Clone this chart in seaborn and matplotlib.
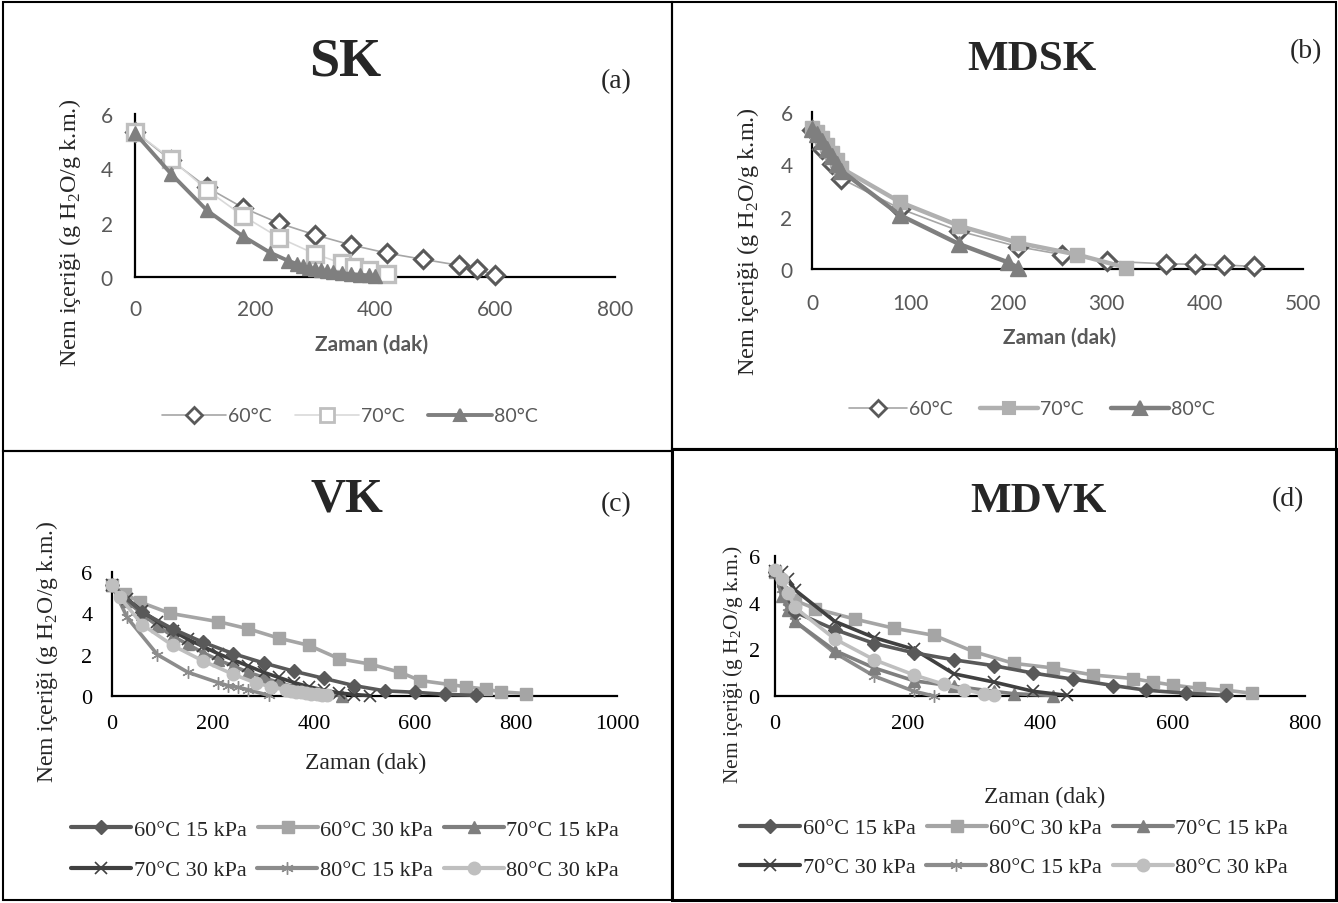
import matplotlib
matplotlib.use("Agg")
import matplotlib.pyplot as plt
from matplotlib.lines import Line2D
from matplotlib.patches import Rectangle
import seaborn as sns
import pandas as pd

sns.set_theme(style="white")
plt.rcParams['font.family'] = ['Liberation Serif', 'DejaVu Sans']
plt.rcParams['mathtext.fontset'] = 'custom'
plt.rcParams['mathtext.rm'] = 'Liberation Serif'

# ---------------- DATA ----------------
# (a) SK
a_t60 = [0, 60, 120, 180, 240, 300, 360, 420, 480, 540, 570, 600]
a_y60 = [5.35, 4.3, 3.3, 2.55, 1.98, 1.55, 1.18, 0.88, 0.65, 0.43, 0.28, 0.08]
a_t70 = [0, 60, 120, 180, 240, 300, 345, 365, 390, 420]
a_y70 = [5.35, 4.35, 3.2, 2.25, 1.45, 0.85, 0.5, 0.38, 0.25, 0.1]
a_t80 = [0, 60, 120, 180, 225, 255, 270, 280, 290, 300, 310, 320, 330, 345, 360, 375, 390, 400]
a_y80 = [5.3, 3.8, 2.45, 1.5, 0.9, 0.6, 0.48, 0.4, 0.34, 0.29, 0.25, 0.21, 0.18, 0.14, 0.11, 0.08, 0.06, 0.04]

# (b) MDSK
b_t60 = [0, 10, 20, 30, 90, 150, 210, 255, 300, 360, 390, 420, 450]
b_y60 = [5.3, 4.6, 4.0, 3.45, 2.3, 1.45, 0.85, 0.55, 0.3, 0.2, 0.18, 0.15, 0.1]
b_t70 = [0, 5, 10, 15, 20, 25, 30, 90, 150, 210, 270, 320]
b_y70 = [5.4, 5.25, 5.0, 4.75, 4.45, 4.15, 3.85, 2.55, 1.65, 1.0, 0.55, 0.05]
b_t80 = [0, 5, 10, 15, 20, 25, 30, 90, 150, 200, 210]
b_y80 = [5.35, 5.15, 4.9, 4.6, 4.3, 4.0, 3.75, 2.05, 0.95, 0.25, 0.05]

# (c) VK
c_t60_15 = [0, 60, 120, 180, 240, 300, 360, 420, 480, 540, 600, 660, 720]
c_y60_15 = [5.35, 4.05, 3.25, 2.6, 2.05, 1.6, 1.2, 0.85, 0.5, 0.25, 0.18, 0.08, 0.03]
c_t60_30 = [0, 25, 55, 115, 210, 270, 330, 390, 450, 510, 570, 610, 670, 700, 740, 770, 820]
c_y60_30 = [5.35, 4.95, 4.55, 4.0, 3.6, 3.25, 2.8, 2.45, 1.8, 1.55, 1.15, 0.75, 0.55, 0.45, 0.33, 0.2, 0.12]
c_t70_15 = [0, 30, 60, 90, 120, 150, 180, 210, 240, 270, 300, 330, 360, 390, 420, 455]
c_y70_15 = [5.35, 4.6, 3.95, 3.4, 2.9, 2.5, 2.1, 1.75, 1.45, 1.15, 0.9, 0.65, 0.45, 0.25, 0.12, 0.02]
c_t70_30 = [0, 30, 60, 90, 120, 150, 180, 210, 240, 270, 300, 330, 360, 390, 420, 450, 480, 510]
c_y70_30 = [5.35, 4.7, 4.1, 3.6, 3.15, 2.75, 2.4, 2.05, 1.75, 1.45, 1.15, 0.9, 0.65, 0.45, 0.28, 0.15, 0.07, 0.02]
c_t80_15 = [0, 30, 90, 150, 210, 230, 250, 270, 310]
c_y80_15 = [5.35, 3.8, 2.0, 1.15, 0.65, 0.5, 0.42, 0.3, 0.03]
c_t80_30 = [0, 15, 60, 120, 180, 240, 285, 315, 345, 355, 365, 375, 385, 395, 405, 415, 425]
c_y80_30 = [5.35, 4.8, 3.45, 2.45, 1.7, 1.05, 0.63, 0.45, 0.3, 0.25, 0.2, 0.17, 0.14, 0.11, 0.08, 0.05, 0.03]

# (d) MDVK
d_t60_15 = [0, 30, 90, 150, 210, 270, 330, 390, 450, 510, 560, 620, 680]
d_y60_15 = [5.3, 3.6, 2.85, 2.25, 1.85, 1.55, 1.3, 0.98, 0.72, 0.45, 0.25, 0.12, 0.03]
d_t60_30 = [0, 30, 60, 120, 180, 240, 300, 360, 420, 480, 540, 570, 600, 640, 680, 720]
d_y60_30 = [5.3, 4.1, 3.75, 3.3, 2.9, 2.6, 1.9, 1.4, 1.2, 0.9, 0.75, 0.6, 0.47, 0.33, 0.25, 0.12]
d_t70_15 = [0, 10, 20, 30, 90, 150, 210, 270, 330, 360, 420]
d_y70_15 = [5.35, 4.3, 3.7, 3.2, 1.95, 1.2, 0.65, 0.42, 0.2, 0.1, 0.02]
d_t70_30 = [0, 10, 20, 30, 90, 150, 210, 270, 330, 390, 440]
d_y70_30 = [5.35, 5.3, 5.0, 4.55, 3.2, 2.5, 2.0, 0.95, 0.6, 0.2, 0.03]
d_t80_15 = [0, 10, 20, 30, 90, 150, 210, 240]
d_y80_15 = [5.35, 4.6, 3.8, 3.2, 1.85, 0.85, 0.2, 0.0]
d_t80_30 = [0, 10, 20, 30, 90, 150, 210, 255, 285, 315, 330]
d_y80_30 = [5.4, 5.0, 4.4, 3.8, 2.45, 1.55, 0.9, 0.5, 0.27, 0.1, 0.05]

labels_ab = ["60°C", "70°C", "80°C"]
labels_cd = ["60°C 15 kPa", "60°C 30 kPa", "70°C 15 kPa",
             "70°C 30 kPa", "80°C 15 kPa", "80°C 30 kPa"]
yticks = [0, 2, 4, 6]
ylabel = "Nem içeriği (g H$_\\mathregular{2}$O/g k.m.)"
xlabel = "Zaman (dak)"

# ---------------- LAYOUT ----------------
W, H = 1338, 904
fig = plt.figure(figsize=(W / 100, H / 100), dpi=100)
fig.patch.set_facecolor("white")

def fx(px):
    return px / W

def fy(py):
    return 1 - py / H

def make_axes(x0, x1, y0, y1):
    ax = fig.add_axes([fx(x0), fy(y0), fx(x1) - fx(x0), (y0 - y1) / H])
    ax.set_facecolor("none")
    for s in ["top", "right"]:
        ax.spines[s].set_visible(False)
    for s in ["left", "bottom"]:
        ax.spines[s].set_color("black")
        ax.spines[s].set_linewidth(1.6)
        ax.spines[s].set_zorder(0.5)
    ax.grid(False)
    return ax

def draw(ax, t, y, color, marker, ms, lw, mfc=None, mec=None, mew=1.5, z=2):
    df = pd.DataFrame({"t": t, "y": y})
    sns.lineplot(data=df, x="t", y="y", ax=ax, sort=False, estimator=None,
                 color=color, linewidth=lw, marker=marker, markersize=ms,
                 markerfacecolor=mfc if mfc is not None else color,
                 markeredgecolor=mec if mec is not None else color,
                 markeredgewidth=mew, clip_on=False, legend=False, zorder=z)

def handle(color, marker, ms, lw, mfc=None, mec=None, mew=1.5):
    return Line2D([0], [0], color=color, lw=lw, marker=marker, markersize=ms,
                  markerfacecolor=mfc if mfc is not None else color,
                  markeredgecolor=mec if mec is not None else color,
                  markeredgewidth=mew)

sans = "Lato"
gray_txt = "#595959"

def style_ab(ax, xmax, xstep, xpad, ypad):
    ax.set_xlim(0, xmax)
    ax.set_ylim(0, 6)
    ax.set_xticks(list(range(0, xmax + 1, xstep)))
    ax.set_yticks(yticks)
    ax.tick_params(axis="both", length=0, labelsize=15, labelcolor=gray_txt)
    ax.tick_params(axis="x", pad=xpad)
    ax.tick_params(axis="y", pad=ypad)
    for lab in ax.get_xticklabels() + ax.get_yticklabels():
        lab.set_family(sans)
    ax.set_xlabel("")
    ax.set_ylabel("")

def style_cd(ax, xmax, xstep, xpad, ypad):
    ax.set_xlim(0, xmax)
    ax.set_ylim(0, 6)
    ax.set_xticks(list(range(0, xmax + 1, xstep)))
    ax.set_yticks(yticks)
    ax.tick_params(axis="both", length=0, labelsize=16, labelcolor="black")
    ax.tick_params(axis="x", pad=xpad)
    ax.tick_params(axis="y", pad=ypad)
    ax.set_xlabel("")
    ax.set_ylabel("")

# ---- panel (a) SK ----
axa = make_axes(135, 615, 278, 115)
draw(axa, a_t60, a_y60, "#a6a6a6", "D", 9, 1.2, mfc="white", mec="#595959", mew=2.2, z=3)
draw(axa, a_t70, a_y70, "#d9d9d9", "s", 12, 1.2, mfc="white", mec="#bfbfbf", mew=2.4, z=4)
draw(axa, a_t80, a_y80, "#7f7f7f", "^", 10, 2.8, mfc="#7f7f7f", mec="#7f7f7f", mew=1, z=5)
style_ab(axa, 800, 200, 16, 16)
hA = [handle("#a6a6a6", "D", 8, 1.2, mfc="white", mec="#595959", mew=2.0),
      handle("#d9d9d9", "s", 10, 1.2, mfc="white", mec="#bfbfbf", mew=2.0),
      handle("#7f7f7f", "^", 9, 2.8)]
fig.legend(hA, labels_ab, loc="center", bbox_to_anchor=(fx(350), fy(417)), ncol=3,
           frameon=False, handlelength=3.3, handletextpad=0.1, columnspacing=1.2,
           prop={"family": sans, "size": 14}, labelcolor=gray_txt)
fig.text(fx(372), fy(345), xlabel, ha="center", va="center", family=sans,
         fontweight="bold", fontsize=15, color=gray_txt)
fig.text(fx(70), fy(233), ylabel, rotation=90, ha="center", va="center", fontsize=17.5)
fig.text(fx(345), fy(62), "SK", ha="center", va="center", fontsize=39, fontweight="bold")
fig.text(fx(616), fy(82), "(a)", ha="center", va="center", fontsize=20)

# ---- panel (b) MDSK ----
axb = make_axes(812, 1303, 270, 113)
draw(axb, b_t60, b_y60, "#a6a6a6", "D", 9, 1.2, mfc="white", mec="#595959", mew=2.2, z=3)
draw(axb, b_t70, b_y70, "#b0b0b0", "s", 10, 3.2, mfc="#b0b0b0", mec="#b0b0b0", mew=1, z=4)
draw(axb, b_t80, b_y80, "#7f7f7f", "^", 11, 3.2, mfc="#7f7f7f", mec="#7f7f7f", mew=1, z=5)
style_ab(axb, 500, 100, 17, 14)
hB = [handle("#a6a6a6", "D", 8, 1.2, mfc="white", mec="#595959", mew=2.0),
      handle("#b0b0b0", "s", 9, 3.2),
      handle("#7f7f7f", "^", 10, 3.2)]
fig.legend(hB, labels_ab, loc="center", bbox_to_anchor=(fx(1032), fy(410)), ncol=3,
           frameon=False, handlelength=3.0, handletextpad=0.1, columnspacing=1.4,
           prop={"family": sans, "size": 14}, labelcolor=gray_txt)
fig.text(fx(1060), fy(338), xlabel, ha="center", va="center", family=sans,
         fontweight="bold", fontsize=15, color=gray_txt)
fig.text(fx(748), fy(242), ylabel, rotation=90, ha="center", va="center", fontsize=17.5)
fig.text(fx(1032), fy(60), "MDSK", ha="center", va="center", fontsize=31, fontweight="bold")
fig.text(fx(1306), fy(52), "(b)", ha="center", va="center", fontsize=20)

# ---- panels (c) and (d) ----
cd_styles = [
    dict(color="#595959", marker="D", ms=7, mew=1.0),
    dict(color="#a5a5a5", marker="s", ms=9, mew=1.0),
    dict(color="#7f7f7f", marker="^", ms=9, mew=1.0),
    dict(color="#404040", marker="x", ms=8, mew=1.2),
    dict(color="#8c8c8c", marker=(6, 2, 0), ms=9, mew=1.0),
    dict(color="#bfbfbf", marker="o", ms=9, mew=1.0),
]
c_series = [(c_t60_15, c_y60_15), (c_t60_30, c_y60_30), (c_t70_15, c_y70_15),
            (c_t70_30, c_y70_30), (c_t80_15, c_y80_15), (c_t80_30, c_y80_30)]
d_series = [(d_t60_15, d_y60_15), (d_t60_30, d_y60_30), (d_t70_15, d_y70_15),
            (d_t70_30, d_y70_30), (d_t80_15, d_y80_15), (d_t80_30, d_y80_30)]
z_order = [6, 3, 4, 5, 2, 7]

def draw_cd(ax, series):
    for (t, y), st, z in zip(series, cd_styles, z_order):
        draw(ax, t, y, st["color"], st["marker"], st["ms"], 2.6,
             mfc=st["color"], mec=st["color"], mew=st["mew"], z=z)

def legend_cd(cx, y1, y2):
    hs = [handle(st["color"], st["marker"], st["ms"], 3.0, mew=st["mew"]) for st in cd_styles]
    for row, yy in ((0, y1), (1, y2)):
        fig.legend(hs[row * 3:row * 3 + 3], labels_cd[row * 3:row * 3 + 3], loc="center",
                   bbox_to_anchor=(fx(cx), fy(yy)), ncol=3, frameon=False,
                   handlelength=2.7, handletextpad=0.1, columnspacing=0.5,
                   prop={"family": "Liberation Serif", "size": 16})

axc = make_axes(112, 617, 697, 573)
draw_cd(axc, c_series)
style_cd(axc, 1000, 200, 13, 14)
legend_cd(345, 831, 871)
fig.text(fx(366), fy(763), xlabel, ha="center", va="center", fontsize=17)
fig.text(fx(47), fy(652), ylabel, rotation=90, ha="center", va="center", fontsize=17)
fig.text(fx(347), fy(500), "VK", ha="center", va="center", fontsize=35, fontweight="bold")
fig.text(fx(616), fy(505), "(c)", ha="center", va="center", fontsize=20)

axd = make_axes(775, 1305, 697, 557)
draw_cd(axd, d_series)
style_cd(axd, 800, 200, 13, 11)
legend_cd(1014, 829, 868)
fig.text(fx(1045), fy(797), xlabel, ha="center", va="center", fontsize=17)
fig.text(fx(733), fy(665), ylabel, rotation=90, ha="center", va="center", fontsize=15.5)
fig.text(fx(1038), fy(502), "MDVK", ha="center", va="center", fontsize=31, fontweight="bold")
fig.text(fx(1288), fy(500), "(d)", ha="center", va="center", fontsize=20)

# ---- panel frames ----
def frame(x0, y0, x1, y1, lw=1.5):
    fig.add_artist(Rectangle((fx(x0), fy(y1)), fx(x1) - fx(x0), (y1 - y0) / H,
                             fill=False, edgecolor="black", linewidth=lw,
                             transform=fig.transFigure))

frame(3, 3, 672, 452)
frame(672, 3, 1336, 450)
frame(3, 452, 672, 901)
frame(672, 450, 1336, 901, lw=2.2)

fig.savefig("out.png", dpi=100, facecolor="white")
